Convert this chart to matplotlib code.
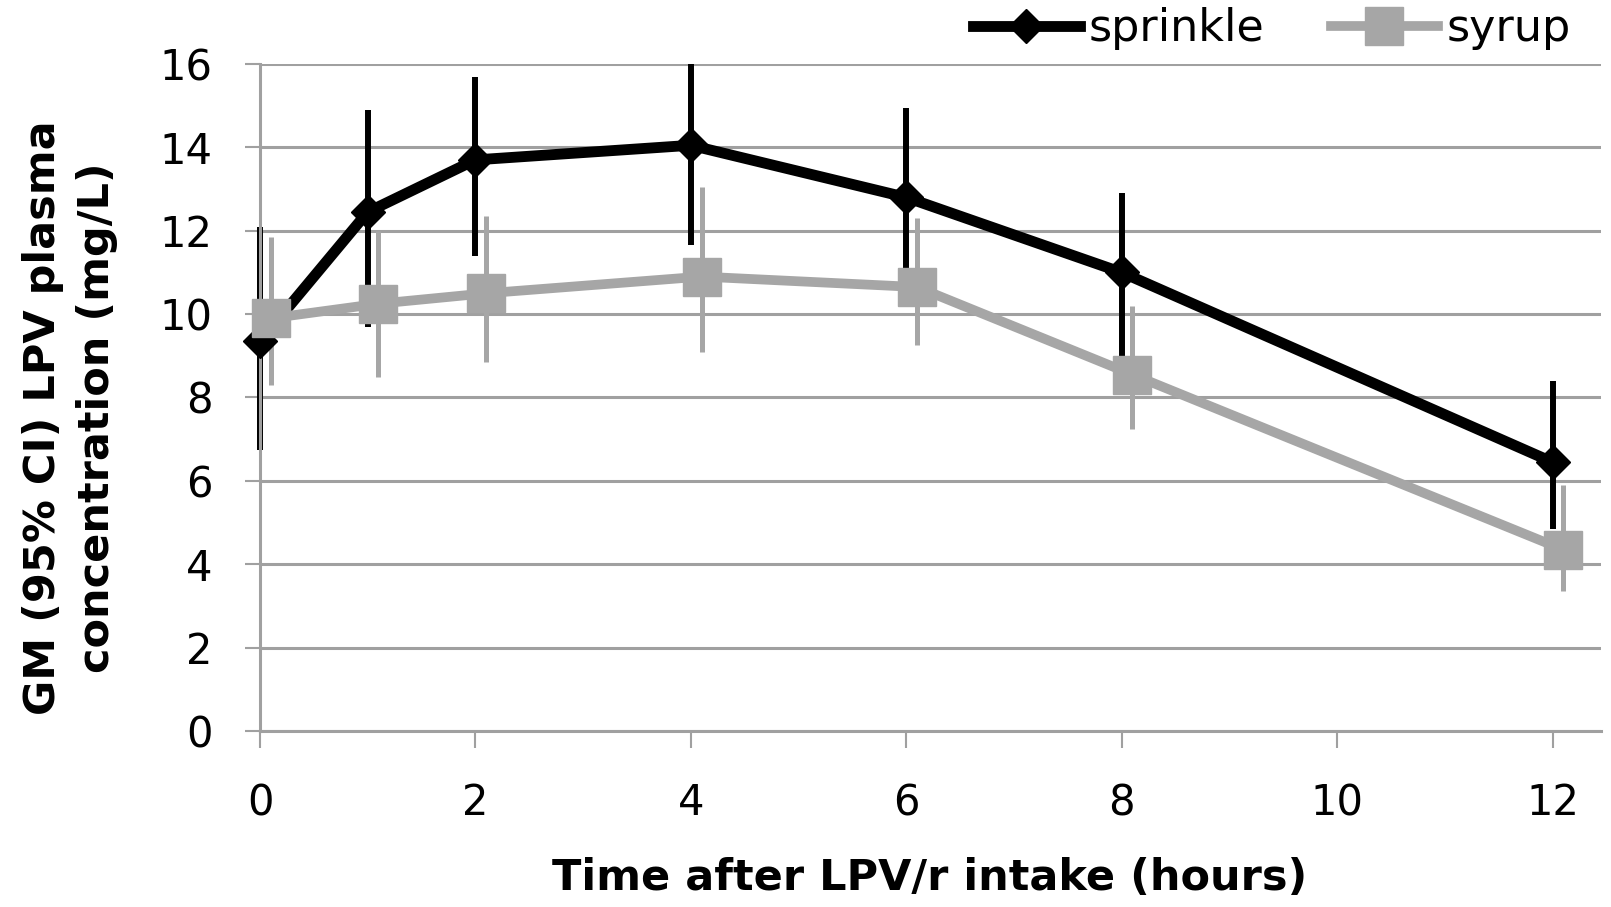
import numpy as np
import matplotlib
matplotlib.use("Agg")
import matplotlib.pyplot as plt

plt.rcParams['font.family'] = ['DejaVu Sans']

# time points (hours); syrup is drawn slightly shifted to the right
time = [0, 1, 2, 4, 6, 8, 12]
syrup_time = [0.1, 1.1, 2.1, 4.1, 6.1, 8.1, 12.1]

sprinkle = [9.35, 12.45, 13.7, 14.05, 12.8, 11.0, 6.45]
sprinkle_hi = [12.1, 14.9, 15.7, 16.0, 14.95, 12.9, 8.4]
sprinkle_lo = [6.75, 9.7, 11.4, 11.65, 11.1, 8.3, 4.85]

syrup = [9.9, 10.25, 10.5, 10.9, 10.65, 8.55, 4.35]
syrup_hi = [11.85, 12.0, 12.35, 13.05, 12.3, 10.2, 5.9]
syrup_lo = [8.3, 8.5, 8.85, 9.1, 9.25, 7.25, 3.35]

xticks = [0, 2, 4, 6, 8, 10, 12]
yticks = [0, 2, 4, 6, 8, 10, 12, 14, 16]

grey = "#a6a6a6"
gridgrey = "#a0a0a0"

fig = plt.figure(figsize=(16.11, 9.07), dpi=100)
ax = fig.add_axes([260/1611, 176/907, 1341/1611, 667/907])

ax.vlines(time, sprinkle_lo, sprinkle_hi, color="black", lw=4.3, zorder=2, clip_on=False)
ax.vlines(syrup_time, syrup_lo, syrup_hi, color=grey, lw=3.6, zorder=2.5, clip_on=False)
ax.plot(time, sprinkle, color="black", lw=7.8, marker="D", ms=17,
        label="sprinkle", zorder=3, clip_on=False)
ax.plot(syrup_time, syrup, color=grey, lw=7, marker="s", ms=28,
        label="syrup", zorder=4, clip_on=False)

ax.set_xlim(0, 12.45)
ax.set_ylim(0, 16)
ax.set_xticks(xticks)
ax.set_yticks(yticks)

ax.yaxis.grid(True, color=gridgrey, lw=2.2)
ax.set_axisbelow(True)
for s in ["top", "right"]:
    ax.spines[s].set_visible(False)
for s in ["left", "bottom"]:
    ax.spines[s].set_color(gridgrey)
    ax.spines[s].set_linewidth(2.2)

ax.tick_params(axis="y", direction="out", length=11, width=1.5, color=gridgrey,
               pad=23, labelsize=30)
ax.tick_params(axis="x", direction="out", length=12, width=1.5, color=gridgrey,
               pad=25, labelsize=30)

fig.text(930/1611, 1 - 878/907, "Time after LPV/r intake (hours)", ha="center",
         va="center", fontsize=31, fontweight="bold")
fig.text(70/1611, 1 - 418/907, "GM (95% CI) LPV plasma\nconcentration (mg/L)",
         rotation=90, ha="center", va="center", multialignment="center",
         fontsize=31, fontweight="bold", linespacing=1.35)

ax.legend(loc="center", bbox_to_anchor=(1272/1611, 1 - 29/907),
          bbox_transform=fig.transFigure, ncol=2, frameon=False, fontsize=32,
          handlelength=2.4, handletextpad=0.2, columnspacing=1.5,
          borderaxespad=0, borderpad=0)

fig.savefig("out.png", dpi=100)
